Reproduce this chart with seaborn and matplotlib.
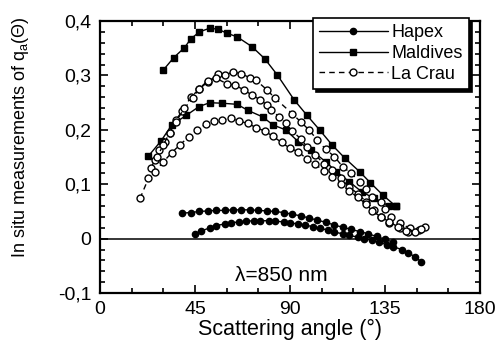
import numpy as np
import pandas as pd
import matplotlib
matplotlib.use('Agg')
import matplotlib.pyplot as plt
from matplotlib.lines import Line2D
from matplotlib.ticker import MultipleLocator, FuncFormatter
import seaborn as sns

# Hapex (two days), filled circles
hapex1_x = [39, 43, 47, 51, 55, 59, 63, 67, 71, 75, 79, 83, 87, 91, 95, 99, 103, 107, 111, 115, 119, 123, 127, 131, 135, 139]
hapex1_y = [0.047, 0.048, 0.050, 0.051, 0.052, 0.052, 0.053, 0.053, 0.053, 0.052, 0.051, 0.050, 0.048, 0.045, 0.042, 0.038,
            0.034, 0.030, 0.025, 0.021, 0.017, 0.013, 0.009, 0.004, -0.001, -0.007]
hapex2_x = [45, 48, 52, 55, 59, 62, 66, 69, 73, 76, 80, 83, 87, 90, 94, 97, 101, 104, 108, 111, 115, 118, 122, 125, 129,
            132, 136, 139, 143, 146, 149, 152]
hapex2_y = [0.008, 0.014, 0.020, 0.024, 0.027, 0.029, 0.031, 0.032, 0.033, 0.033, 0.033, 0.032, 0.031, 0.029, 0.027, 0.025,
            0.022, 0.019, 0.016, 0.012, 0.009, 0.006, 0.003, 0.000, -0.003, -0.007, -0.011, -0.015, -0.020, -0.026, -0.033, -0.042]

# Maldives (two days), filled squares
maldives1_x = [30, 35, 40, 43, 47, 52, 56, 60, 65, 72, 78, 84, 92, 98, 104, 110, 116, 123, 128, 134, 140]
maldives1_y = [0.310, 0.333, 0.351, 0.367, 0.380, 0.387, 0.385, 0.378, 0.371, 0.353, 0.331, 0.301, 0.255, 0.227, 0.200,
               0.172, 0.148, 0.123, 0.103, 0.080, 0.060]
maldives2_x = [23, 29, 34, 41, 47, 52, 58, 65, 70, 77, 82, 88, 94, 100, 107, 112, 118, 124, 130, 137, 140]
maldives2_y = [0.152, 0.180, 0.209, 0.227, 0.243, 0.250, 0.249, 0.247, 0.236, 0.224, 0.209, 0.200, 0.178, 0.163, 0.141,
               0.123, 0.105, 0.086, 0.074, 0.060, 0.060]

# La Crau (three days), open circles
crau1_x = [26, 28, 31, 33, 36, 39, 43, 47, 51, 56, 59, 63, 67, 71, 74, 79, 83, 91, 95, 99, 103, 107, 111, 115, 119, 123,
           126, 129, 133, 135, 138, 142, 147, 151, 154]
crau1_y = [0.144, 0.163, 0.178, 0.194, 0.218, 0.235, 0.260, 0.275, 0.288, 0.302, 0.300, 0.307, 0.303, 0.296, 0.291, 0.274,
           0.258, 0.230, 0.215, 0.200, 0.181, 0.164, 0.151, 0.132, 0.120, 0.105, 0.092, 0.077, 0.068, 0.054, 0.040, 0.028,
           0.019, 0.016, 0.022]
crau2_x = [24, 27, 30, 33, 36, 40, 44, 47, 51, 55, 60, 64, 68, 72, 76, 79, 81, 85, 88, 91, 95, 98, 102, 106, 110, 114,
           118, 122, 126, 130, 133, 137, 142, 146]
crau2_y = [0.130, 0.150, 0.172, 0.195, 0.215, 0.240, 0.258, 0.276, 0.290, 0.295, 0.285, 0.282, 0.274, 0.264, 0.255, 0.246,
           0.236, 0.224, 0.212, 0.198, 0.184, 0.169, 0.154, 0.138, 0.126, 0.111, 0.095, 0.083, 0.068, 0.053, 0.040, 0.028,
           0.019, 0.013]
crau3_x = [19, 23, 26, 30, 34, 38, 42, 46, 50, 54, 58, 62, 66, 70, 74, 78, 82, 86, 90, 94, 98, 102, 106, 110, 114, 118,
           122, 126, 129, 133, 137, 141, 145, 149, 152]
crau3_y = [0.074, 0.111, 0.123, 0.141, 0.158, 0.173, 0.187, 0.200, 0.210, 0.217, 0.219, 0.221, 0.216, 0.212, 0.204, 0.198,
           0.188, 0.177, 0.166, 0.160, 0.146, 0.137, 0.124, 0.114, 0.101, 0.088, 0.076, 0.064, 0.051, 0.040, 0.031, 0.022,
           0.015, 0.013, 0.017]

curves = [
    ('Hapex', hapex1_x, hapex1_y), ('Hapex', hapex2_x, hapex2_y),
    ('Maldives', maldives1_x, maldives1_y), ('Maldives', maldives2_x, maldives2_y),
    ('La Crau', crau1_x, crau1_y), ('La Crau', crau2_x, crau2_y), ('La Crau', crau3_x, crau3_y),
]
styles = {
    'Hapex': dict(marker='o', ms=4.5, mfc='black', ls='-'),
    'Maldives': dict(marker='s', ms=4.5, mfc='black', ls='-'),
    'La Crau': dict(marker='o', ms=5, mfc='white', ls=(0, (4, 3))),
}

sns.set_style('ticks', {'axes.edgecolor': 'black', 'text.color': 'black',
                        'xtick.color': 'black', 'ytick.color': 'black', 'axes.labelcolor': 'black'})
plt.rcParams['font.family'] = ['Liberation Sans', 'DejaVu Sans']
plt.rcParams['mathtext.fontset'] = 'custom'
plt.rcParams['mathtext.rm'] = 'Liberation Sans'
plt.rcParams['mathtext.it'] = 'Liberation Sans'

fig = plt.figure(figsize=(4.97, 3.46), dpi=100)
ax = fig.add_axes([0.201, 0.153, 0.765, 0.786])

ax.axhline(0, color='black', lw=1.1, zorder=1)

for site, xs, ys in curves:
    df = pd.DataFrame({'angle': xs, 'q': ys})
    st = styles[site]
    sns.lineplot(data=df, x='angle', y='q', ax=ax, color='black', lw=1, estimator=None, sort=False,
                 marker=st['marker'], markersize=st['ms'], markerfacecolor=st['mfc'],
                 markeredgecolor='black', markeredgewidth=1, linestyle=st['ls'], zorder=3)

ax.set_xlim(0, 180)
ax.set_ylim(-0.1, 0.4)
ax.xaxis.set_major_locator(MultipleLocator(45))
ax.xaxis.set_minor_locator(MultipleLocator(15))
ax.yaxis.set_major_locator(MultipleLocator(0.1))
ax.yaxis.set_minor_locator(MultipleLocator(0.02))
ax.yaxis.set_major_formatter(FuncFormatter(lambda v, p: '0' if abs(v) < 1e-9 else ('%.1f' % v).replace('.', ',')))
ax.tick_params(which='both', direction='in', top=True, right=True, width=1.2, labelsize=14, pad=6,
               color='black', labelcolor='black')
ax.tick_params(which='major', length=6)
ax.tick_params(which='minor', length=3.5)
for s in ax.spines.values():
    s.set_linewidth(1.6)
    s.set_color('black')

ax.set_xlabel('Scattering angle (°)', fontsize=15.5, labelpad=0, color='black')
ax.set_ylabel('In situ measurements of q$_{\\rm a}$(Θ)', fontsize=13, color='black')
ax.yaxis.set_label_coords(-0.18, 0.575)

ax.text(86, -0.068, 'λ=850 nm', ha='center', va='center', fontsize=15, color='black')

handles = [Line2D([], [], color='black', lw=1, marker=styles[k]['marker'], ms=styles[k]['ms'],
                  mfc=styles[k]['mfc'], mec='black', ls=styles[k]['ls']) for k in ['Hapex', 'Maldives', 'La Crau']]
leg = ax.legend(handles, ['Hapex', 'Maldives', 'La Crau'], loc='upper right',
                bbox_to_anchor=(469 / 497, 1 - 18 / 346), bbox_transform=fig.transFigure,
                fontsize=13, frameon=True, fancybox=False, edgecolor='black', framealpha=1,
                shadow={'color': 'black', 'alpha': 1}, handlelength=3.8, handletextpad=0.2,
                labelspacing=0.2, borderpad=0.35, borderaxespad=0, labelcolor='black')
leg.get_frame().set_linewidth(1.2)

fig.savefig('out.png', dpi=100)
